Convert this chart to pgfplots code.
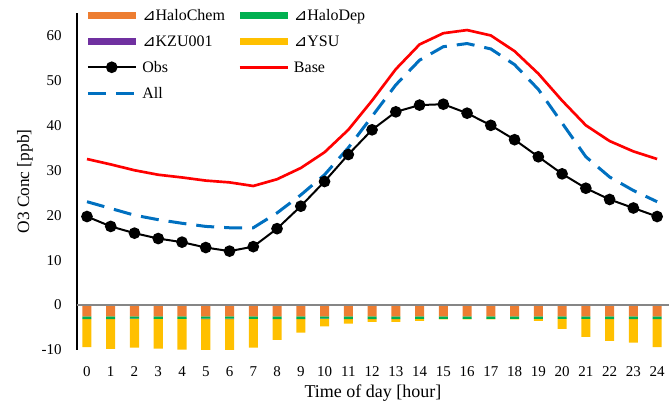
\documentclass[border=0pt]{standalone}
\usepackage{fontspec}
\setmainfont{Liberation Serif}
\newfontfamily\symfont{DejaVu Sans}
\usepackage{pgfplots}
\pgfplotsset{compat=1.18}
\definecolor{cChem}{HTML}{ED7D31}
\definecolor{cDep}{HTML}{00B050}
\definecolor{cKZU}{HTML}{7030A0}
\definecolor{cYSU}{HTML}{FFC000}
\definecolor{cAll}{HTML}{0070C0}
\definecolor{cBase}{HTML}{FF0000}
\definecolor{zgray}{HTML}{868686}
\newcommand{\tri}{{\symfont ⊿}}
\pgfplotsset{
  common/.style={scale only axis, width=444pt, height=252.75pt,
    xmin=-0.42, xmax=24.5, ymin=-10, ymax=65},
  barleg/.style={legend image code/.code={\fill[##1] (0pt,-2.75pt) rectangle (36pt,2.75pt);}},
  lineleg/.style={legend image code/.code={\draw[mark repeat=2,mark phase=2,##1] plot coordinates {(0pt,0pt) (18pt,0pt) (36pt,0pt)};}},
}
\begin{document}
\begin{tikzpicture}
\begin{axis}[common, hide axis, ybar stacked, bar width=0.38]
\addplot[fill=cChem, draw=none] coordinates {(0,-2.5) (1,-2.5) (2,-2.5) (3,-2.5) (4,-2.5) (5,-2.5) (6,-2.5) (7,-2.5) (8,-2.5) (9,-2.5) (10,-2.5) (11,-2.5) (12,-2.5) (13,-2.5) (14,-2.5) (15,-2.5) (16,-2.5) (17,-2.5) (18,-2.5) (19,-2.5) (20,-2.5) (21,-2.5) (22,-2.5) (23,-2.5) (24,-2.5)};
\addplot[fill=cDep, draw=none] coordinates {(0,-0.6) (1,-0.6) (2,-0.5) (3,-0.55) (4,-0.55) (5,-0.5) (6,-0.5) (7,-0.55) (8,-0.6) (9,-0.6) (10,-0.5) (11,-0.6) (12,-0.6) (13,-0.6) (14,-0.55) (15,-0.55) (16,-0.55) (17,-0.55) (18,-0.55) (19,-0.55) (20,-0.55) (21,-0.55) (22,-0.6) (23,-0.6) (24,-0.6)};
\addplot[fill=cKZU, draw=none] coordinates {(0,-0.05) (1,-0.05) (2,-0.05) (3,-0.05) (4,-0.05) (5,-0.15) (6,-0.15) (7,-0.05) (8,-0.05) (9,-0.05) (10,-0.05) (11,-0.05) (12,-0.05) (13,-0.05) (14,-0.05) (15,-0.05) (16,-0.05) (17,-0.05) (18,-0.05) (19,-0.05) (20,-0.05) (21,-0.05) (22,-0.05) (23,-0.05) (24,-0.05)};
\addplot[fill=cYSU, draw=none] coordinates {(0,-6.2) (1,-6.6) (2,-6.4) (3,-6.6) (4,-6.8) (5,-6.85) (6,-6.85) (7,-6.4) (8,-4.6) (9,-3.0) (10,-1.7) (11,-1.0) (12,-0.6) (13,-0.6) (14,-0.4) (15,-0.1) (16,-0.1) (17,-0.1) (18,-0.1) (19,-0.4) (20,-2.2) (21,-4.0) (22,-4.8) (23,-5.2) (24,-6.2)};
\end{axis}
\begin{axis}[common, name=ax,
  axis lines=left,
  x axis line style={draw=none},
  y axis line style={-, black, line width=1pt},
  major tick length=0pt,
  xtick={0,...,24},
  xticklabels={0,1,2,3,4,5,6,7,8,9,10,11,12,13,14,15,16,17,18,19,20,21,22,23,24},
  ytick={-10,0,10,20,30,40,50,60},
  yticklabels={-10,0,10,20,30,40,50,60},
  tick label style={font=\fontsize{11.25}{13}\selectfont},
  xticklabel style={anchor=center, inner sep=0pt, yshift=-16.5pt},
  yticklabel style={anchor=east, inner sep=0pt, xshift=-11.25pt},
  xlabel={Time of day [hour]},
  ylabel={O3 Conc [ppb]},
  every axis x label/.style={at={(axis description cs:0.5,-0.1276)}, anchor=center, font=\fontsize{13.5}{15}\selectfont},
  every axis y label/.style={at={(axis description cs:-0.0878,0.5)}, rotate=90, anchor=center, font=\fontsize{13}{15}\selectfont},
  legend columns=2,
  legend style={at={(axis description cs:0,1)}, anchor=north west, xshift=6.75pt, yshift=4pt,
    draw=none, fill=none, inner sep=0pt, row sep=8.5pt,
    font=\fontsize{12}{14}\selectfont,
    nodes={inner sep=0pt, text height=9.5pt, text depth=1.5pt},
    /tikz/every odd column/.append style={column sep=3.75pt},
    /tikz/every even column/.append style={column sep=10pt}},
  legend cell align=left,
]
\addlegendimage{barleg, fill=cChem, draw=none}
\addlegendentry{\tri HaloChem}
\addlegendimage{barleg, fill=cDep, draw=none}
\addlegendentry{\tri HaloDep}
\addlegendimage{barleg, fill=cKZU, draw=none}
\addlegendentry{\tri KZU001}
\addlegendimage{barleg, fill=cYSU, draw=none}
\addlegendentry{\tri YSU}
\addplot[zgray, line width=1.5pt, forget plot] coordinates {(-0.42,0) (24.5,0)};
\addplot[lineleg, black, line width=1.5pt, mark=*, mark size=3.6pt] coordinates {(0,19.7) (1,17.5) (2,16) (3,14.8) (4,14) (5,12.8) (6,12) (7,13) (8,17) (9,22) (10,27.5) (11,33.5) (12,39) (13,43) (14,44.5) (15,44.7) (16,42.7) (17,40) (18,36.8) (19,33) (20,29.2) (21,26) (22,23.5) (23,21.6) (24,19.7)};
\addlegendentry{Obs}
\addplot[lineleg, cBase, line width=2pt] coordinates {(0,32.5) (1,31.3) (2,30) (3,29) (4,28.4) (5,27.7) (6,27.3) (7,26.5) (8,28) (9,30.5) (10,34) (11,39) (12,45.5) (13,52.5) (14,58) (15,60.5) (16,61.2) (17,60) (18,56.5) (19,51.5) (20,45.5) (21,40) (22,36.5) (23,34.2) (24,32.5)};
\addlegendentry{Base}
\addplot[lineleg, cAll, line width=2.25pt, dash pattern=on 13.5pt off 7.5pt] coordinates {(0,23) (1,21.5) (2,20) (3,19) (4,18.2) (5,17.5) (6,17.2) (7,17.2) (8,20.5) (9,24.5) (10,29) (11,35) (12,42) (13,49) (14,54.5) (15,57.5) (16,58.2) (17,57) (18,53.5) (19,48) (20,40.5) (21,33) (22,28.5) (23,25.5) (24,23)};
\addlegendentry{All}
\end{axis}
\pgfresetboundingbox
\path ([xshift=-57.75pt, yshift=-42.75pt]ax.south west) rectangle ([xshift=1.5pt, yshift=9.75pt]ax.north east);
\end{tikzpicture}
\end{document}
